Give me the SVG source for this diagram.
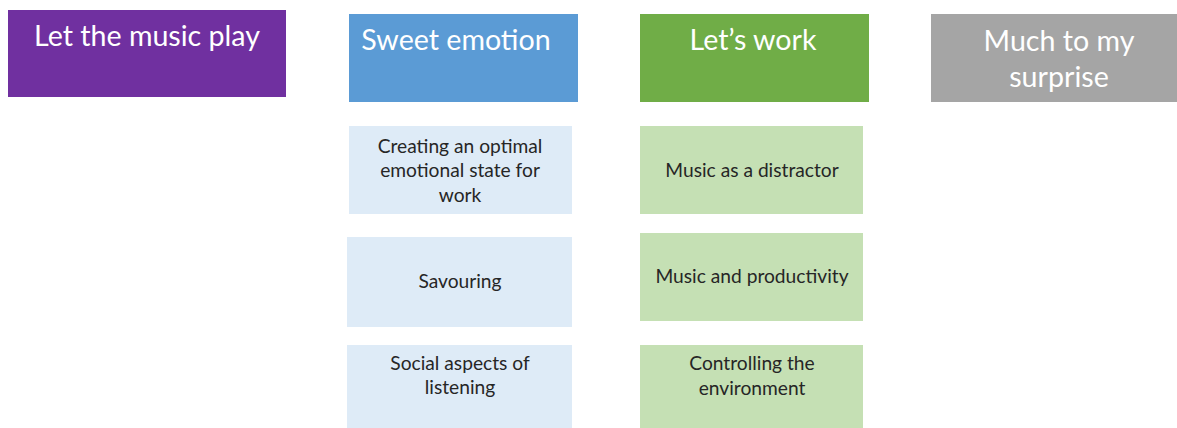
<svg xmlns="http://www.w3.org/2000/svg" width="1177" height="428" viewBox="0 0 1177 428">
  <style>
    .head { font-family: Lato, "Open Sans", sans-serif; font-size: 28.6px; fill: #ffffff; text-anchor: middle; }
    .item { font-family: Lato, "Open Sans", sans-serif; font-size: 19.2px; fill: #262626; text-anchor: middle; }
    .purple { fill: #7030A0; }
    .blue { fill: #5B9BD5; }
    .green { fill: #70AD47; }
    .gray { fill: #A5A5A5; }
    .lblue { fill: #DEEBF7; }
    .lgreen { fill: #C5E0B4; }
  </style>
  <rect width="1177" height="428" fill="#ffffff"/>

  <!-- column headers -->
  <g id="h-play">
    <rect class="purple" x="8" y="10" width="278" height="87"/>
    <text class="head" x="147" y="46">Let the music play</text>
  </g>
  <g id="h-emotion">
    <rect class="blue" x="349" y="14" width="229" height="88"/>
    <text class="head" x="456" y="50">Sweet emotion</text>
  </g>
  <g id="h-work">
    <rect class="green" x="640" y="14" width="229" height="88"/>
    <text class="head" x="753" y="50">Let’s work</text>
  </g>
  <g id="h-surprise">
    <rect class="gray" x="931" y="14" width="256" height="88"/>
    <text class="head" x="1059" y="51">Much to my</text>
    <text class="head" x="1059" y="87">surprise</text>
  </g>

  <!-- Sweet emotion items -->
  <g id="e-optimal">
    <rect class="lblue" x="349" y="126" width="223" height="88"/>
    <text class="item" x="460" y="153">Creating an optimal</text>
    <text class="item" x="460" y="177">emotional state for</text>
    <text class="item" x="460" y="202">work</text>
  </g>
  <g id="e-savouring">
    <rect class="lblue" x="347" y="237" width="225" height="90"/>
    <text class="item" x="460" y="288">Savouring</text>
  </g>
  <g id="e-social">
    <rect class="lblue" x="347" y="345" width="225" height="83"/>
    <text class="item" x="460" y="370">Social aspects of</text>
    <text class="item" x="460" y="394">listening</text>
  </g>

  <!-- Let's work items -->
  <g id="w-distractor">
    <rect class="lgreen" x="640" y="126" width="223" height="88"/>
    <text class="item" x="752" y="177">Music as a distractor</text>
  </g>
  <g id="w-productivity">
    <rect class="lgreen" x="640" y="233" width="223" height="88"/>
    <text class="item" x="752" y="283">Music and productivity</text>
  </g>
  <g id="w-environment">
    <rect class="lgreen" x="640" y="345" width="223" height="83"/>
    <text class="item" x="752" y="370">Controlling the</text>
    <text class="item" x="752" y="395">environment</text>
  </g>

  <g id="connectors"/>
</svg>
